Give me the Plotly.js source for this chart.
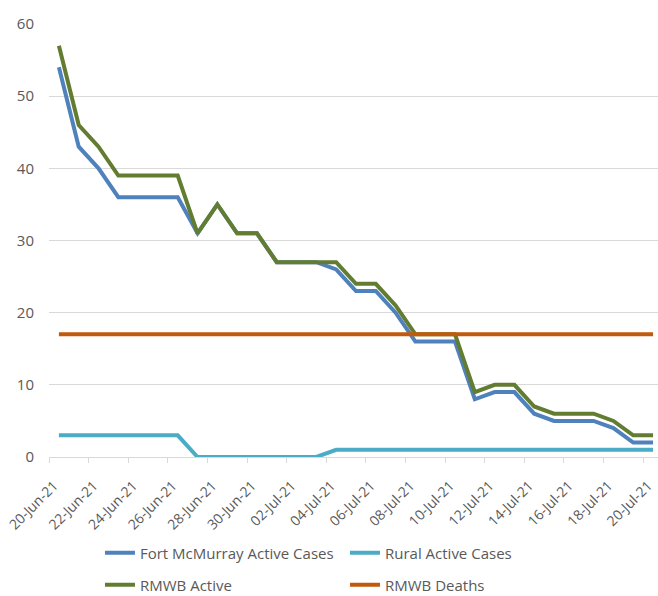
<!DOCTYPE html>
<html>
<head>
<meta charset="utf-8">
<script src="https://cdn.plot.ly/plotly-3.0.1.min.js"></script>
<style>html,body{margin:0;padding:0;background:#fff;}#chart{width:658px;height:596px;}</style>
</head>
<body>
<div id="chart"></div>
<script>
const dates = [
  '2021-06-20','2021-06-21','2021-06-22','2021-06-23','2021-06-24','2021-06-25','2021-06-26',
  '2021-06-27','2021-06-28','2021-06-29','2021-06-30','2021-07-01','2021-07-02','2021-07-03',
  '2021-07-04','2021-07-05','2021-07-06','2021-07-07','2021-07-08','2021-07-09','2021-07-10',
  '2021-07-11','2021-07-12','2021-07-13','2021-07-14','2021-07-15','2021-07-16','2021-07-17',
  '2021-07-18','2021-07-19','2021-07-20'
];
const fortMcMurray = [54,43,40,36,36,36,36,31,35,31,31,27,27,27,26,23,23,20,16,16,16,8,9,9,6,5,5,5,4,2,2];
const rural =        [3,3,3,3,3,3,3,0,0,0,0,0,0,0,1,1,1,1,1,1,1,1,1,1,1,1,1,1,1,1,1];
const rmwbActive =   [57,46,43,39,39,39,39,31,35,31,31,27,27,27,27,24,24,21,17,17,17,9,10,10,7,6,6,6,5,3,3];
const rmwbDeaths =   [17,17,17,17,17,17,17,17,17,17,17,17,17,17,17,17,17,17,17,17,17,17,17,17,17,17,17,17,17,17,17];

const tickDates = ['2021-06-20','2021-06-22','2021-06-24','2021-06-26','2021-06-28','2021-06-30',
  '2021-07-02','2021-07-04','2021-07-06','2021-07-08','2021-07-10','2021-07-12','2021-07-14',
  '2021-07-16','2021-07-18','2021-07-20'];
const tickLabels = ['20-Jun-21','22-Jun-21','24-Jun-21','26-Jun-21','28-Jun-21','30-Jun-21',
  '02-Jul-21','04-Jul-21','06-Jul-21','08-Jul-21','10-Jul-21','12-Jul-21','14-Jul-21',
  '16-Jul-21','18-Jul-21','20-Jul-21'];

// Excel draws each date in the middle of its day slot: ticks sit half a day earlier
function shift(d, hours) {
  const t = new Date(d + 'T00:00:00Z').getTime() + hours * 3600000;
  return new Date(t).toISOString().replace('T', ' ').slice(0, 19);
}
const tickVals = tickDates.map(d => shift(d, -12));

const FAM = 'Open Sans, Noto Sans, sans-serif';
const GREY = '#595959';

const mk = (name, y, color, legend) => ({
  type: 'scatter', mode: 'lines', name: name, x: dates, y: y, legend: legend,
  line: {color: color, width: 4}
});

const data = [
  mk('Fort McMurray Active Cases', fortMcMurray, '#4F81BD', 'legend'),
  mk('Rural Active Cases', rural, '#4BACC6', 'legend'),
  mk('RMWB Active', rmwbActive, '#627C31', 'legend2'),
  mk('RMWB Deaths', rmwbDeaths, '#C05A0C', 'legend2')
];

const legendBase = {
  orientation: 'h', xanchor: 'left', yanchor: 'middle',
  entrywidth: 200, entrywidthmode: 'pixels',
  bgcolor: 'rgba(0,0,0,0)',
  font: {family: FAM, size: 15, color: GREY}
};

const layout = {
  width: 658, height: 596,
  margin: {l: 49, r: 0, t: 24, b: 139, autoexpand: false},
  paper_bgcolor: '#ffffff', plot_bgcolor: '#ffffff',
  font: {family: FAM, size: 15, color: GREY},
  showlegend: true,
  legend: Object.assign({}, legendBase, {x: 0.0837, y: -0.2217}),
  legend2: Object.assign({}, legendBase, {x: 0.0837, y: -0.2956}),
  xaxis: {
    type: 'date',
    range: [shift('2021-06-20', -12), shift('2021-07-20', 6)],
    tickmode: 'array', tickvals: tickVals, ticktext: tickLabels,
    tickangle: -45, ticks: 'outside', ticklen: 5, tickcolor: '#D9D9D9',
    ticklabelshift: 5, ticklabelstandoff: 9, ticklabeloverflow: 'allow',
    showgrid: false, showline: true, linecolor: '#D9D9D9', linewidth: 1,
    zeroline: false, tickfont: {family: FAM, size: 14, color: GREY}
  },
  yaxis: {
    range: [0, 60], dtick: 10, tick0: 0,
    showgrid: true, gridcolor: '#D9D9D9', gridwidth: 1,
    zeroline: false, showline: false, ticks: '', ticklabelstandoff: 14,
    tickfont: {family: FAM, size: 15, color: GREY}
  }
};

Plotly.newPlot('chart', data, layout, {displayModeBar: false, responsive: false});
</script>
</body>
</html>
